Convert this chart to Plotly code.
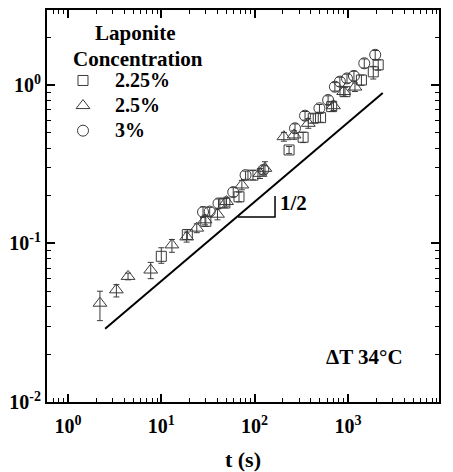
import plotly.graph_objects as go

# ---- data ----
series_names = ["2.25%", "2.5%", "3%"]

t_sq = [10, 19, 30, 48, 68, 96, 234, 331, 425, 509, 670, 930, 1395, 1870, 2110]
v_sq = [0.083, 0.114, 0.138, 0.180, 0.197, 0.270, 0.389, 0.468, 0.617, 0.622, 0.73, 0.907, 1.075, 1.21, 1.34]
eu_sq = [0.011, 0.008, 0.010, 0.012, 0.014, 0.018, 0.02, 0.035, 0.04, 0.04, 0.05, 0.06, 0.08, 0.10, 0.10]
ed_sq = [0.008, 0.008, 0.010, 0.012, 0.014, 0.018, 0.02, 0.035, 0.04, 0.04, 0.05, 0.06, 0.08, 0.12, 0.10]

t_tr = [2.2, 3.3, 4.4, 7.7, 13, 18.7, 24, 29.4, 40, 50, 73, 114, 129, 206, 265, 376, 700, 900, 1190]
v_tr = [0.042, 0.051, 0.062, 0.068, 0.098, 0.110, 0.125, 0.141, 0.153, 0.184, 0.234, 0.277, 0.298, 0.472, 0.484, 0.573, 0.74, 0.91, 0.97]
eu_tr = [0.008, 0.004, 0.003, 0.008, 0.008, 0.008, 0.008, 0.010, 0.012, 0.012, 0.016, 0.02, 0.03, 0.03, 0.03, 0.04, 0.05, 0.06, 0.06]
ed_tr = [0.0094, 0.005, 0.003, 0.008, 0.010, 0.008, 0.008, 0.010, 0.012, 0.012, 0.016, 0.02, 0.02, 0.03, 0.03, 0.04, 0.05, 0.06, 0.06]

t_ci = [28, 33, 41, 59, 80, 124, 271, 347, 495, 613, 725, 820, 977, 1160, 1497, 1960]
v_ci = [0.158, 0.159, 0.179, 0.211, 0.270, 0.291, 0.533, 0.64, 0.713, 0.804, 0.975, 1.05, 1.10, 1.14, 1.37, 1.55]
eu_ci = [0.012, 0.010, 0.012, 0.014, 0.016, 0.018, 0.035, 0.04, 0.04, 0.05, 0.06, 0.07, 0.07, 0.08, 0.09, 0.10]
ed_ci = [0.012, 0.010, 0.012, 0.014, 0.016, 0.018, 0.035, 0.04, 0.04, 0.05, 0.06, 0.07, 0.07, 0.08, 0.09, 0.10]

fit_t = [2.5, 2360]
fit_v = [0.029, 0.89]

slope_t = [66.4, 165.5, 165.5]
slope_v = [0.147, 0.147, 0.1995]

x_tickvals = [1, 10, 100, 1000, 10000]
x_ticktext = ["10<sup>0</sup>", "10<sup>1</sup>", "10<sup>2</sup>", "10<sup>3</sup>", "10<sup>4</sup>"]
y_tickvals = [0.01, 0.1, 1]
y_ticktext = ["10<sup>-2</sup>", "10<sup>-1</sup>", "10<sup>0</sup>"]

# ---- figure ----
FONT = "Liberation Serif"
MC = "#3a3a3a"

fig = go.Figure()

def add_series(t, v, eu, ed, symbol, size, name):
    fig.add_trace(go.Scatter(
        x=t, y=v, mode="markers",
        name='<span style="font-size:20px">' + name + '</span>',
        marker=dict(symbol=symbol, size=size, color=MC,
                    line=dict(color=MC, width=1)),
        error_y=dict(type="data", symmetric=False, array=eu, arrayminus=ed,
                     color=MC, thickness=1, width=3),
    ))

add_series(t_sq, v_sq, eu_sq, ed_sq, "square-open", 10, series_names[0])
add_series(t_tr, v_tr, eu_tr, ed_tr, "triangle-up-open", 12, series_names[1])
add_series(t_ci, v_ci, eu_ci, ed_ci, "circle-open", 11, series_names[2])

fig.add_trace(go.Scatter(x=fit_t, y=fit_v, mode="lines",
                         line=dict(color="black", width=2), showlegend=False))
fig.add_trace(go.Scatter(x=slope_t, y=slope_v, mode="lines",
                         line=dict(color="black", width=1.5), showlegend=False))

axis_common = dict(
    type="log", showgrid=False, zeroline=False, automargin=False,
    showline=True, linecolor="black", linewidth=2, mirror="ticks",
    ticks="inside", ticklen=8, tickwidth=1.5, tickcolor="black",
    tickfont=dict(family=FONT, size=20, color="black", weight="bold"),
    minor=dict(ticks="inside", ticklen=4, tickwidth=1, tickcolor="black",
               dtick="D1", showgrid=False),
)

fig.update_xaxes(**axis_common, range=[-0.225, 3.976],
                 tickmode="array", tickvals=x_tickvals, ticktext=x_ticktext,
                 ticklabelstandoff=5,
                 title=dict(text="t (s)", font=dict(family=FONT, size=22, color="black", weight="bold"),
                            standoff=20))
fig.update_yaxes(**axis_common, range=[-2, 0.473],
                 tickmode="array", tickvals=y_tickvals, ticktext=y_ticktext)

ann_font = dict(family=FONT, size=21, color="black", weight="bold")
fig.add_annotation(text="Laponite", xref="paper", yref="paper", x=0.2245, y=0.941,
                   xanchor="center", yanchor="middle", showarrow=False, font=ann_font)
fig.add_annotation(text="Concentration", xref="paper", yref="paper", x=0.232, y=0.875,
                   xanchor="center", yanchor="middle", showarrow=False, font=ann_font)
fig.add_annotation(text="1/2", xref="paper", yref="paper", x=0.589, y=0.508,
                   xanchor="left", yanchor="middle", showarrow=False, font=ann_font)
fig.add_annotation(text="ΔT 34°C", xref="paper", yref="paper", x=0.811, y=0.1156,
                   xanchor="center", yanchor="middle", showarrow=False, font=ann_font)

fig.update_layout(
    width=453, height=472,
    margin=dict(l=47, r=14, t=10, b=70, autoexpand=False),
    plot_bgcolor="white", paper_bgcolor="white",
    showlegend=True,
    legend=dict(x=0.0102, y=0.865, xanchor="left", yanchor="top",
                bgcolor="rgba(0,0,0,0)", itemwidth=54,
                font=dict(family=FONT, size=17, color="black", weight="bold")),
)

fig.write_html("out.html")
